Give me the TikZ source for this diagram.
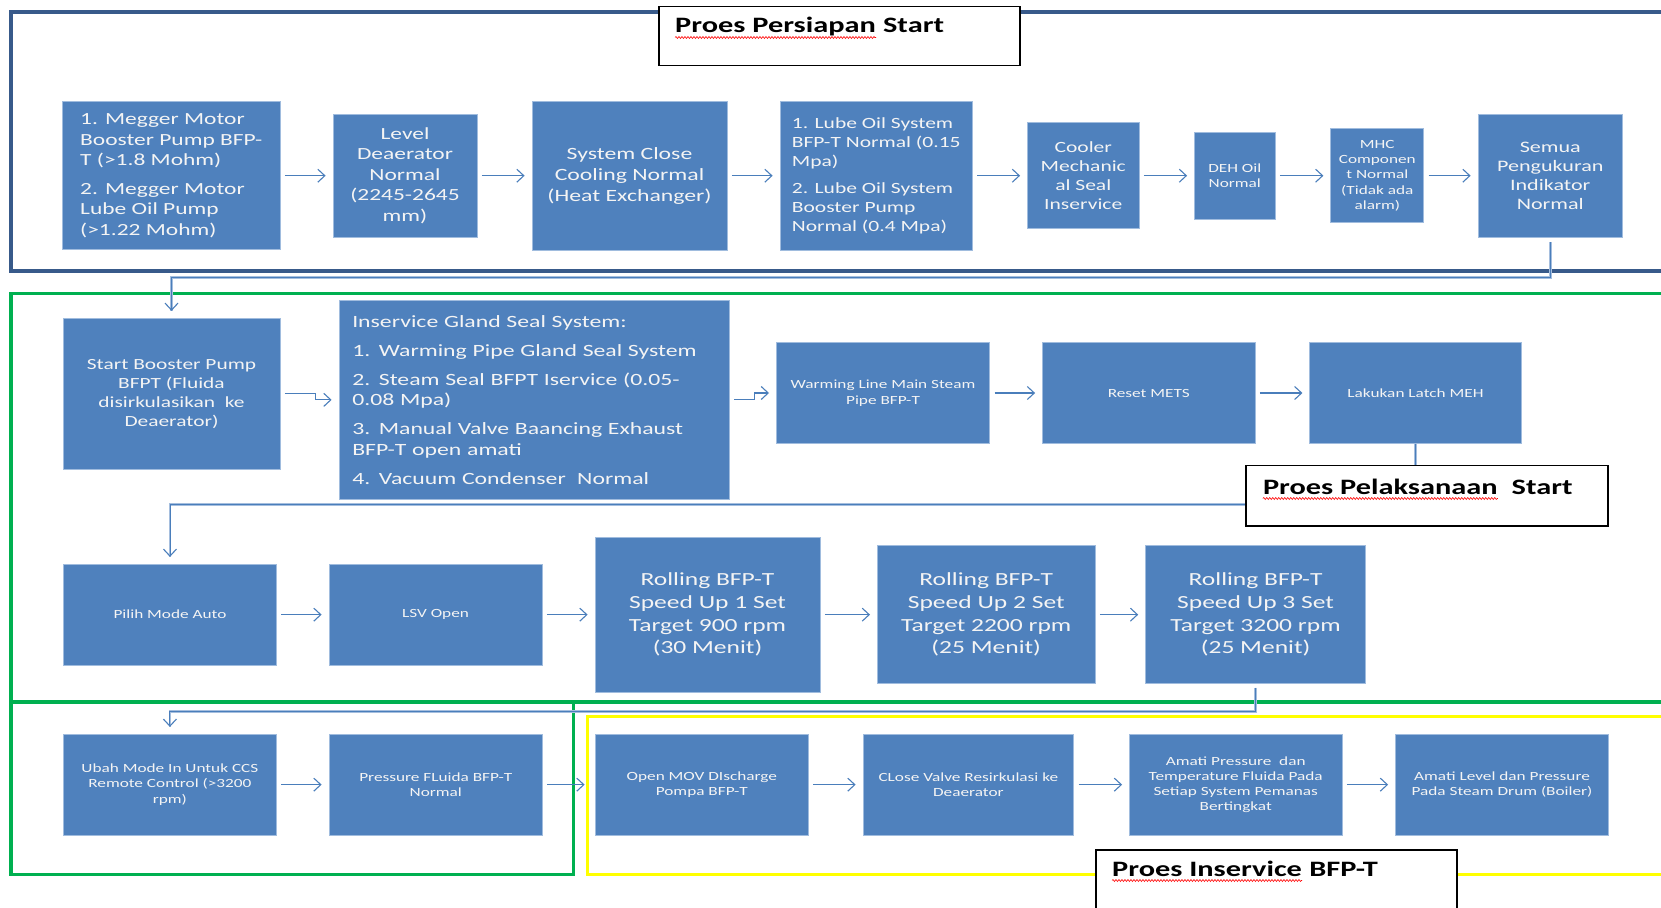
\documentclass[tikz,border=0pt]{standalone}
\usepackage{fontspec}
\setmainfont{Carlito}[FakeStretch=1.38]
\usetikzlibrary{arrows.meta,calc,decorations.pathmorphing}
\definecolor{boxblue}{RGB}{79,129,189}
\definecolor{boxedge}{RGB}{160,188,222}
\definecolor{arrowblue}{RGB}{74,126,187}
\definecolor{frameblue}{RGB}{56,90,138}
\definecolor{grn}{RGB}{0,176,80}
\definecolor{ylw}{RGB}{255,255,0}
\definecolor{connlight}{RGB}{165,190,222}
\definecolor{boxtext}{RGB}{244,244,244}
\begin{document}
\begin{tikzpicture}[x=1pt,y=-1pt,
  box/.style={draw=boxedge, line width=0.8pt, fill=boxblue, text=boxtext, inner sep=2pt, align=center},
  tipb/.tip={Straight Barb[length=7pt,width=13pt,line width=1.1pt]},
  arw/.style={draw=arrowblue, line width=1.1pt, -tipb, shorten <=4.5pt, shorten >=7pt},
  conn/.style={draw=arrowblue, line width=0.9pt, preaction={draw=connlight, line width=2.8pt, -}, -tipb, shorten >=7pt},
  bframe/.style={draw=frameblue, line width=4pt},
  gframe/.style={draw=grn, line width=3.6pt},
  yframe/.style={draw=ylw, line width=3.6pt},
  ttlbox/.style={draw=black, line width=1.3pt, fill=white},
  ttltxt/.style={inner sep=0pt, font=\fontsize{22}{26}\selectfont\bfseries, text=black},
  wavy/.style={draw=red, line width=0.6pt, decorate, decoration={snake, amplitude=1pt, segment length=3pt}},
  fA/.style={font=\fontsize{17}{20.5}\selectfont},
  fB/.style={font=\fontsize{15.6}{19}\selectfont},
  fC/.style={font=\fontsize{12.5}{15.7}\selectfont},
  fD/.style={font=\fontsize{18.5}{22.6}\selectfont},
  fE/.style={font=\fontsize{16}{19}\selectfont}
]
\useasboundingbox (0,0) rectangle (1661,907);
\clip (0,0) rectangle (1661,907);
\fill[white] (0,0) rectangle (1661,907);

% frames
\draw[bframe] (1680,12) -- (10.7,12) -- (10.7,270.7) -- (1680,270.7);
\draw[gframe] (1680,293.3) -- (11,293.3) -- (11,701.7) -- (1680,701.7);
\draw[gframe] (11,701.7) -- (11,874.3) -- (573.3,874.3) -- (573.3,701.7);
\draw[yframe] (1680,716.5) -- (587.5,716.5) -- (587.5,874.3) -- (1680,874.3);

% row 1
\node[box, fA, align=left, minimum width=217.5pt, minimum height=148pt] (B1) at (171.25,175.7)
  {1. Megger Motor\\ Booster Pump BFP-\\ T (>1.8 Mohm)\\[8pt] 2. Megger Motor\\ Lube Oil Pump\\ (>1.22 Mohm)};
\node[box, fA, minimum width=144pt, minimum height=123pt] (B2) at (405,175.7)
  {Level\\ Deaerator\\ Normal\\ (2245-2645\\ mm)};
\node[box, fA, font=\fontsize{17.2}{21}\selectfont, minimum width=195pt, minimum height=148.5pt] (B3) at (629.5,175.7)
  {System Close\\ Cooling Normal\\ (Heat Exchanger)};
\node[box, fB, align=left, minimum width=192.5pt, minimum height=149pt] (B4) at (876.25,175.7)
  {1. Lube Oil System\\ BFP-T Normal (0.15\\ Mpa)\\[7.5pt] 2. Lube Oil System\\ Booster Pump\\ Normal (0.4 Mpa)};
\node[box, fB, minimum width=111.5pt, minimum height=106.3pt] (B5) at (1083.25,175.7)
  {Cooler\\ Mechanic\\ al Seal\\ Inservice};
\node[box, fC, minimum width=80.5pt, minimum height=87pt] (B6) at (1234.75,175.7)
  {DEH Oil\\ Normal};
\node[box, fC, font=\fontsize{12.5}{15.4}\selectfont, minimum width=93pt, minimum height=94pt] (B7) at (1377.3,175.7)
  {MHC\\ Componen\\ t Normal\\ (Tidak ada\\ alarm)};
\node[box, fE, minimum width=144.5pt, minimum height=123pt] (B8) at (1550.25,175.7)
  {Semua\\ Pengukuran\\ Indikator\\ Normal};

% row 2
\node[box, font=\fontsize{15.5}{19}\selectfont, minimum width=217pt, minimum height=150.7pt] (B9) at (171.5,393.65)
  {Start Booster Pump\\ BFPT (Fluida\\ disirkulasikan \ ke\\ Deaerator)};
\node[box, fA, font=\fontsize{17.2}{20.5}\selectfont, align=left, text width=364pt, inner xsep=13.25pt, minimum height=198.3pt] (B10) at (534.25,399.85)
  {Inservice Gland Seal System:\\[8.5pt] 1. Warming Pipe Gland Seal System\\[8.5pt] 2. Steam Seal BFPT Iservice (0.05-\\ 0.08 Mpa)\\[8.5pt] 3. Manual Valve Baancing Exhaust\\ BFP-T open amati\\[8.5pt] 4. Vacuum Condenser \ Normal};
\node[box, fC, minimum width=213.2pt, minimum height=100.6pt] (B11) at (883,393)
  {Warming Line Main Steam\\ Pipe BFP-T};
\node[box, fC, minimum width=212.5pt, minimum height=100.6pt] (B12) at (1148.75,393)
  {Reset METS};
\node[box, fC, minimum width=211.4pt, minimum height=100.6pt] (B13) at (1415.5,393)
  {Lakukan Latch MEH};

% row 3
\node[box, fC, minimum width=213.1pt, minimum height=100.7pt] (B14) at (169.95,614.65)
  {Pilih Mode Auto};
\node[box, fC, minimum width=213pt, minimum height=100.7pt] (B15) at (435.5,614.65)
  {LSV Open};
\node[box, fD, minimum width=225pt, minimum height=155pt] (B16) at (707.5,614.65)
  {Rolling BFP-T\\ Speed Up 1 Set\\ Target 900 rpm\\ (30 Menit)};
\node[box, fD, minimum width=217.6pt, minimum height=138.3pt] (B17) at (986.2,614.65)
  {Rolling BFP-T\\ Speed Up 2 Set\\ Target 2200 rpm\\ (25 Menit)};
\node[box, fD, minimum width=219.9pt, minimum height=138.3pt] (B18) at (1255.55,614.65)
  {Rolling BFP-T\\ Speed Up 3 Set\\ Target 3200 rpm\\ (25 Menit)};

% row 4
\node[box, fC, minimum width=212.8pt, minimum height=100.7pt] (B19) at (169.9,784.65)
  {Ubah Mode In Untuk CCS\\ Remote Control (>3200\\ rpm)};
\node[box, fC, minimum width=213.5pt, minimum height=100.7pt] (B20) at (435.75,784.65)
  {Pressure FLuida BFP-T\\ Normal};
\node[box, fC, minimum width=212.7pt, minimum height=100.7pt] (B21) at (701.85,784.65)
  {Open MOV DIscharge\\ Pompa BFP-T};
\node[box, fC, minimum width=210.7pt, minimum height=100.7pt] (B22) at (968.35,784.65)
  {CLose Valve Resirkulasi ke\\ Deaerator};
\node[box, fC, font=\fontsize{12.5}{15.2}\selectfont, minimum width=212.4pt, minimum height=100.7pt] (B23) at (1235.7,784.65)
  {Amati Pressure \ dan\\ Temperature Fluida Pada\\ Setiap System Pemanas\\ Bertingkat};
\node[box, fC, minimum width=213pt, minimum height=100.7pt] (B24) at (1502,784.65)
  {Amati Level dan Pressure\\ Pada Steam Drum (Boiler)};

% straight arrows
\foreach \a/\b in {B1/B2,B2/B3,B3/B4,B4/B5,B5/B6,B6/B7,B7/B8,B11/B12,B12/B13,B14/B15,B15/B16,B16/B17,B17/B18,B19/B20,B21/B22,B22/B23,B23/B24}
  \draw[arw] (\a.east) -- (\b.west);
\draw[arw, shorten >=10.5pt] (B20.east) -- (B21.west);

% elbow arrows
\draw[arw] (B9.east) -- ++(35,0) |- (B10.west);
\draw[arw] (B10.east) -- ++(25,0) |- (B11.west);

% long connectors
\draw[conn, shorten <=4.4pt] (B8.south) -- ++(0,39.7) -| (B9.north);
\draw[conn] (B13.south) -- ++(0,61) -| (B14.north);
\draw[conn, shorten <=3.4pt] (B18.south) -- ++(0,27.4) -| (B19.north);

% title boxes
\node[ttlbox, minimum width=361pt, minimum height=59.3pt] (T1) at (839.5,36.05) {};
\node[ttltxt, anchor=base west] (t1a) at (675,33) {Proes Persiapan};
\node[ttltxt, anchor=base west] (t1b) at (t1a.base east) {\ Start};
\draw[wavy] ($(t1a.base west)+(0,4.5)$) -- ($(t1a.base east)+(0,4.5)$);

\node[ttlbox, minimum width=362pt, minimum height=60.3pt] (T2) at (1427,495.85) {};
\node[ttltxt, anchor=base west] (t2a) at (1262.8,494) {Proes Pelaksanaan};
\node[ttltxt, anchor=base west] (t2b) at (t2a.base east) {\ \ Start};
\draw[wavy] ($(t2a.base west)+(0,4.5)$) -- ($(t2a.base east)+(0,4.5)$);

\node[ttlbox, minimum width=361pt, minimum height=65pt] (T3) at (1276.5,882.5) {};
\node[ttltxt, anchor=base west] (t3a) at (1112,876) {Proes Inservice};
\node[ttltxt, anchor=base west] (t3b) at (t3a.base east) {\ BFP-T};
\draw[wavy] ($(t3a.base west)+(0,4.5)$) -- ($(t3a.base east)+(0,4.5)$);
\end{tikzpicture}
\end{document}
